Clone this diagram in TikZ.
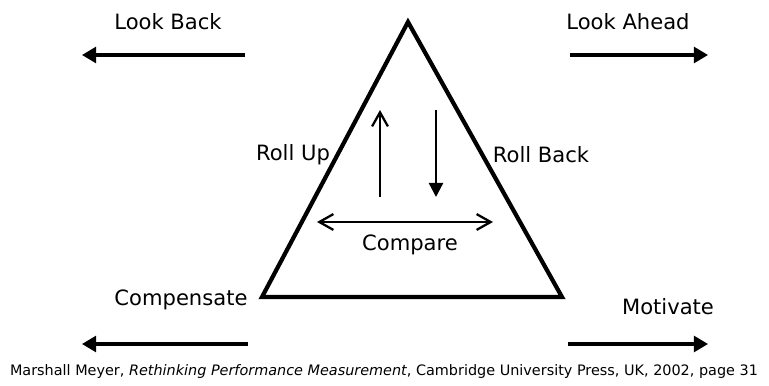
\documentclass[tikz,border=0pt]{standalone}
\usepackage{fontspec}
\setmainfont{DejaVu Sans}
\usepackage{tikz}
\usetikzlibrary{arrows.meta, positioning}

\tikzset{
  label/.style={font=\fontsize{12}{14}\selectfont, inner sep=1pt},
  bigarrow/.style={line width=1.8pt, -{Triangle[length=8pt, width=9pt]}},
  barb/.style={line width=1.3pt},
}

\begin{document}
\begin{tikzpicture}[x=0.02cm, y=-0.02cm]
    \useasboundingbox (0,0) rectangle (769,386);

    % Triangle
    \coordinate (Top) at (408,22);
    \coordinate (BL) at (262,297);
    \coordinate (BR) at (562,297);
    \draw[line width=2.4pt, line join=miter] (Top) -- (BR) -- (BL) -- cycle;

    % Corner labels and arrows
    \node[label] (lookback) at (168,22) {Look Back};
    \node[label] (lookahead) at (628,22) {Look Ahead};
    \node[label] (compensate) at (181,300) {Compensate};
    \node[label] (motivate) at (668,307) {Motivate};
    \coordinate (lbS) at (245,55);  \coordinate (lbE) at (82,55);
    \coordinate (laS) at (570,55);  \coordinate (laE) at (708,55);
    \coordinate (cpS) at (248,344); \coordinate (cpE) at (82,344);
    \coordinate (mvS) at (568,344); \coordinate (mvE) at (708,344);
    \draw[bigarrow] (lbS) -- (lbE);
    \draw[bigarrow] (laS) -- (laE);
    \draw[bigarrow] (cpS) -- (cpE);
    \draw[bigarrow] (mvS) -- (mvE);

    % Side labels
    \node[label] (rollup) at (293,155) {Roll Up};
    \node[label] (rollback) at (541,155) {Roll Back};

    % Inner arrows
    \coordinate (upS) at (380,197); \coordinate (upE) at (380,110);
    \coordinate (dnS) at (436,110); \coordinate (dnE) at (436,197);
    \draw[barb, -{Straight Barb[length=8pt, width=9pt]}] (upS) -- (upE);
    \draw[barb, -{Triangle[length=8pt, width=8pt]}] (dnS) -- (dnE);
    \coordinate (cmL) at (317,222); \coordinate (cmR) at (493,222);
    \draw[barb, {Straight Barb[length=8pt, width=9pt]}-{Straight Barb[length=8pt, width=9pt]}] (cmL) -- (cmR);
    \node[label] (compare) at (410,245) {Compare};

    % Source
    \node[font=\fontsize{8.2}{10}\selectfont, inner sep=0pt] (source) at (384,372)
      {Marshall Meyer, \textit{Rethinking Performance Measurement}, Cambridge University Press, UK, 2002, page 31};
\end{tikzpicture}
\end{document}
